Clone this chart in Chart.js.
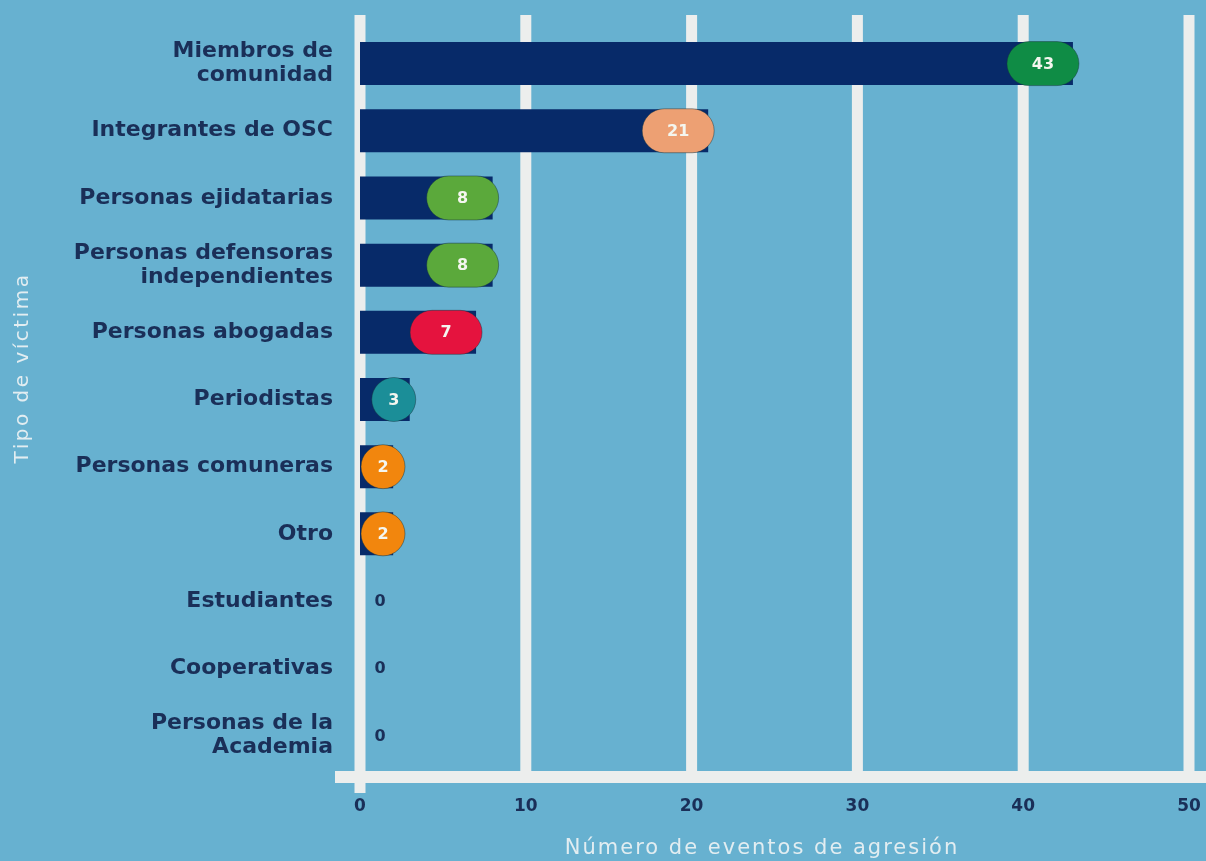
<!DOCTYPE html>
<html>
<head>
<meta charset="utf-8">
<script src="https://cdn.jsdelivr.net/npm/chart.js@4.4.1/dist/chart.umd.min.js"></script>
<style>
  html, body { margin: 0; padding: 0; background: #67b1d0; }
  #wrap { width: 1206px; height: 861px; position: relative; }
</style>
</head>
<body>
<div id="wrap"><canvas id="c" width="1206" height="861"></canvas></div>
<script>
// ---- data ----
const categories = [
  ['Miembros de', 'comunidad'],
  'Integrantes de OSC',
  'Personas ejidatarias',
  ['Personas defensoras', 'independientes'],
  'Personas abogadas',
  'Periodistas',
  'Personas comuneras',
  'Otro',
  'Estudiantes',
  'Cooperativas',
  ['Personas de la', 'Academia']
];
const eventCounts = [43, 21, 8, 8, 7, 3, 2, 2, 0, 0, 0];
const xTickValues = [0, 10, 20, 30, 40, 50];
const xTitle = 'Número de eventos de agresión';
const yTitle = 'Tipo de víctima';

// ---- styles ----
const pillColors = ['#0f8c45', '#eda073', '#5ba93b', '#5ba93b', '#e5133e', '#1b8e98', '#f2860d', '#f2860d', null, null, null];
const BG = '#67b1d0';
const NAVY = '#072a69';
const LABEL = '#1a2f58';
const GRID = '#eceeed';
const TITLE = '#e2edf1';
const FONT = '"DejaVu Sans", sans-serif';

const bgPlugin = {
  id: 'bg',
  beforeDraw(chart) {
    const ctx = chart.ctx;
    ctx.save();
    ctx.fillStyle = BG;
    ctx.fillRect(0, 0, chart.width, chart.height);
    ctx.restore();
  }
};

const gridPlugin = {
  id: 'customGrid',
  beforeDatasetsDraw(chart) {
    const ctx = chart.ctx, x = chart.scales.x, area = chart.chartArea;
    const axisY = area.bottom + 8;
    ctx.save();
    ctx.fillStyle = GRID;
    xTickValues.forEach((v, i) => {
      const px = x.getPixelForValue(v);
      const top = area.top - 15;
      const bottom = i === 0 ? axisY + 16 : axisY;
      ctx.fillRect(px - 5.5, top, 11, bottom - top);
    });
    // horizontal axis line
    const start = x.getPixelForValue(0) - 25;
    ctx.fillRect(start, axisY - 6, chart.width - start, 12);
    ctx.restore();
  }
};

function roundRect(ctx, x, y, w, h, r) {
  ctx.beginPath();
  ctx.moveTo(x + r, y);
  ctx.lineTo(x + w - r, y);
  ctx.arc(x + w - r, y + r, r, -Math.PI / 2, Math.PI / 2);
  ctx.lineTo(x + r, y + h);
  ctx.arc(x + r, y + r, r, Math.PI / 2, Math.PI * 1.5);
  ctx.closePath();
}

const pillPlugin = {
  id: 'pills',
  afterDatasetsDraw(chart) {
    const ctx = chart.ctx, x = chart.scales.x;
    const meta = chart.getDatasetMeta(0);
    const x0 = x.getPixelForValue(0);
    ctx.save();
    meta.data.forEach((bar, i) => {
      const v = eventCounts[i];
      const cy = bar.y;
      ctx.textAlign = 'center';
      ctx.textBaseline = 'middle';
      if (!v) {
        ctx.fillStyle = LABEL;
        ctx.font = 'bold 16px ' + FONT;
        ctx.fillText(String(v), x0 + 20, cy + 1);
        return;
      }
      const h = bar.height + 1;
      const w = v >= 5 ? 72 : h;
      let right = x.getPixelForValue(v) + 6;
      let left = Math.max(right - w, x0 + 1);
      right = left + w;
      roundRect(ctx, left, cy - h / 2, w, h, h / 2);
      ctx.fillStyle = pillColors[i];
      ctx.fill();
      ctx.strokeStyle = 'rgba(20,50,60,0.45)';
      ctx.lineWidth = 1;
      ctx.stroke();
      ctx.fillStyle = '#f4f6ef';
      ctx.font = 'bold 16px ' + FONT;
      ctx.fillText(String(v), left + w / 2, cy + 1);
    });
    ctx.restore();
  }
};

const titlePlugin = {
  id: 'axisTitles',
  afterDraw(chart) {
    const ctx = chart.ctx;
    ctx.save();
    ctx.fillStyle = TITLE;
    ctx.textAlign = 'center';
    ctx.textBaseline = 'middle';
    ctx.font = '21px ' + FONT;
    ctx.letterSpacing = '2px';
    ctx.fillText(xTitle, 762, 849);
    ctx.font = '20px ' + FONT;
    ctx.letterSpacing = '2.5px';
    ctx.translate(23, 368);
    ctx.rotate(-Math.PI / 2);
    ctx.fillText(yTitle, 0, 0);
    ctx.restore();
  }
};

new Chart(document.getElementById('c'), {
  type: 'bar',
  data: {
    labels: categories,
    datasets: [{
      data: eventCounts,
      backgroundColor: NAVY,
      borderWidth: 0,
      barPercentage: 0.64,
      categoryPercentage: 1.0
    }]
  },
  options: {
    indexAxis: 'y',
    responsive: false,
    animation: false,
    layout: { padding: { top: 30, right: 17, left: 0, bottom: 0 } },
    plugins: { legend: { display: false }, tooltip: { enabled: false } },
    scales: {
      x: {
        min: 0, max: 50,
        afterBuildTicks(scale) { scale.ticks = xTickValues.map(v => ({ value: v })); },
        afterFit(scale) { scale.height = 92; scale.paddingLeft = 0; scale.paddingRight = 0; },
        grid: { display: false, drawTicks: false },
        border: { display: false },
        ticks: {
          padding: 27,
          color: LABEL,
          font: { family: FONT, size: 17, weight: 'bold' },
          maxRotation: 0
        },
        title: { display: false }
      },
      y: {
        afterFit(scale) { scale.width = 360; scale.paddingTop = 0; scale.paddingBottom = 0; },
        grid: { display: false, drawTicks: false },
        border: { display: false },
        ticks: {
          padding: 27,
          color: LABEL,
          font: { family: FONT, size: 22, weight: 'bold', lineHeight: 1.1 }
        },
        title: { display: false }
      }
    }
  },
  plugins: [bgPlugin, gridPlugin, pillPlugin, titlePlugin]
});
</script>
</body>
</html>
